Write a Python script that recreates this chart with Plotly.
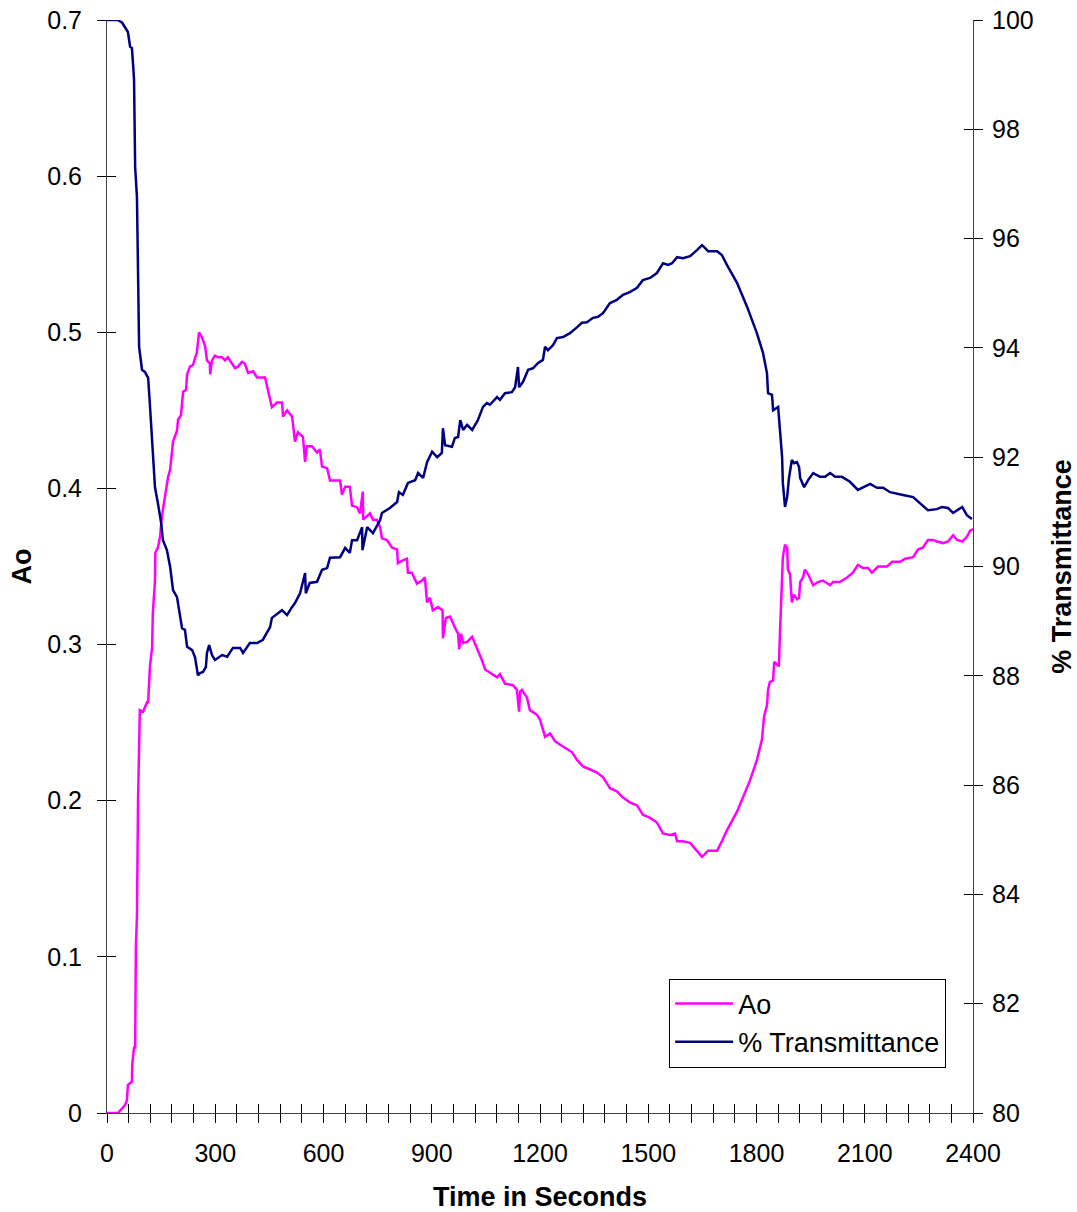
import plotly.graph_objects as go

# ---- Data ----
ao_time = [0, 30, 42, 50, 55, 58, 69, 70, 75, 78, 80, 83, 86, 89, 91, 100, 111, 114, 119, 125,
           127, 133, 134, 141, 147, 152, 161, 169, 175, 183, 194, 197, 205, 211, 219, 222, 230, 238, 249, 255,
           263, 272, 277, 285, 286, 291, 299, 308, 319, 327, 335, 346, 355, 363, 374, 382, 391, 405, 416, 424,
           438, 446, 457, 471, 485, 488, 499, 513, 521, 529, 543, 549, 554, 568, 582, 590, 596, 610, 618, 632,
           646, 651, 660, 673, 679, 693, 701, 709, 710, 729, 737, 748, 757, 762, 776, 790, 804, 806, 820, 831,
           834, 845, 859, 873, 881, 887, 895, 903, 917, 930, 931, 939, 951, 964, 973, 976, 981, 987, 1000, 1012,
           1025, 1039, 1048, 1061, 1081, 1089, 1103, 1125, 1136, 1142, 1145, 1150, 1164, 1172, 1192, 1200, 1214, 1228, 1242, 1255,
           1269, 1289, 1303, 1319, 1339, 1358, 1375, 1394, 1413, 1430, 1449, 1469, 1485, 1505, 1524, 1541, 1560, 1574, 1580, 1596,
           1616, 1635, 1649, 1666, 1691, 1704, 1718, 1746, 1763, 1782, 1801, 1815, 1821, 1829, 1832, 1837, 1846, 1849, 1857, 1862,
           1865, 1868, 1871, 1873, 1879, 1885, 1887, 1893, 1898, 1904, 1912, 1918, 1921, 1929, 1934, 1943, 1957, 1970, 1984, 2004,
           2012, 2031, 2051, 2067, 2081, 2095, 2109, 2120, 2137, 2162, 2176, 2198, 2212, 2234, 2248, 2261, 2275, 2289, 2300, 2317,
           2331, 2345, 2356, 2370, 2383, 2392, 2400]
ao_values = [0.000, 0.000, 0.003, 0.005, 0.008, 0.018, 0.020, 0.031, 0.042, 0.042, 0.106, 0.126, 0.200, 0.241, 0.258, 0.257, 0.263, 0.263, 0.286, 0.298,
             0.320, 0.341, 0.359, 0.362, 0.369, 0.382, 0.395, 0.407, 0.412, 0.430, 0.437, 0.444, 0.447, 0.462, 0.463, 0.473, 0.478, 0.479, 0.487, 0.500,
             0.497, 0.491, 0.482, 0.480, 0.473, 0.482, 0.485, 0.484, 0.484, 0.482, 0.484, 0.480, 0.477, 0.478, 0.481, 0.480, 0.474, 0.475, 0.471, 0.471,
             0.471, 0.463, 0.452, 0.455, 0.455, 0.446, 0.450, 0.446, 0.430, 0.436, 0.433, 0.417, 0.427, 0.427, 0.423, 0.425, 0.414, 0.413, 0.405, 0.405,
             0.405, 0.396, 0.401, 0.401, 0.389, 0.388, 0.384, 0.398, 0.380, 0.384, 0.380, 0.380, 0.375, 0.368, 0.367, 0.362, 0.361, 0.352, 0.354, 0.355,
             0.346, 0.346, 0.339, 0.341, 0.343, 0.327, 0.330, 0.322, 0.324, 0.322, 0.304, 0.317, 0.318, 0.311, 0.307, 0.297, 0.307, 0.301, 0.302, 0.305,
             0.298, 0.290, 0.284, 0.282, 0.279, 0.281, 0.275, 0.274, 0.271, 0.257, 0.270, 0.271, 0.266, 0.258, 0.255, 0.252, 0.241, 0.243, 0.238, 0.236,
             0.234, 0.231, 0.226, 0.222, 0.220, 0.218, 0.215, 0.208, 0.206, 0.202, 0.199, 0.197, 0.191, 0.189, 0.186, 0.179, 0.178, 0.179, 0.174, 0.174,
             0.173, 0.168, 0.164, 0.168, 0.168, 0.174, 0.181, 0.193, 0.202, 0.213, 0.226, 0.239, 0.254, 0.261, 0.271, 0.276, 0.277, 0.289, 0.287, 0.286,
             0.307, 0.322, 0.339, 0.356, 0.364, 0.362, 0.348, 0.345, 0.327, 0.332, 0.329, 0.330, 0.340, 0.343, 0.348, 0.345, 0.338, 0.340, 0.341, 0.338,
             0.340, 0.340, 0.343, 0.346, 0.351, 0.349, 0.349, 0.346, 0.350, 0.350, 0.353, 0.353, 0.355, 0.356, 0.361, 0.362, 0.367, 0.367, 0.366, 0.365,
             0.366, 0.370, 0.367, 0.366, 0.369, 0.373, 0.374]

tr_time = [0, 30, 42, 58, 64, 69, 72, 75, 78, 83, 89, 97, 105, 114, 119, 127, 133, 141, 150, 155,
           166, 175, 183, 194, 200, 208, 216, 222, 236, 244, 252, 258, 266, 274, 277, 283, 291, 299, 319, 333,
           349, 369, 377, 396, 416, 432, 452, 457, 485, 499, 513, 521, 535, 549, 551, 562, 582, 596, 610, 618,
           646, 660, 673, 679, 693, 707, 708, 721, 737, 757, 762, 784, 804, 809, 820, 834, 854, 862, 876, 887,
           901, 915, 928, 931, 937, 956, 964, 973, 979, 987, 998, 1012, 1028, 1042, 1053, 1061, 1081, 1089, 1103, 1122,
           1131, 1139, 1142, 1153, 1167, 1181, 1194, 1208, 1214, 1222, 1236, 1247, 1264, 1283, 1303, 1316, 1330, 1347, 1361, 1375,
           1394, 1413, 1430, 1449, 1469, 1485, 1505, 1524, 1541, 1555, 1566, 1580, 1596, 1616, 1635, 1649, 1657, 1666, 1691, 1704,
           1718, 1746, 1774, 1801, 1818, 1829, 1832, 1843, 1846, 1860, 1865, 1871, 1873, 1879, 1885, 1890, 1898, 1904, 1912, 1918,
           1921, 1932, 1943, 1957, 1976, 1990, 2004, 2018, 2037, 2059, 2081, 2095, 2115, 2134, 2151, 2170, 2189, 2206, 2234, 2253,
           2275, 2300, 2314, 2331, 2345, 2370, 2383, 2397]
tr_values = [100.00, 100.00, 99.95, 99.78, 99.51, 99.49, 99.21, 98.90, 97.31, 96.76, 94.02, 93.60, 93.56, 93.45, 92.95, 92.13, 91.45, 91.16, 90.80, 90.48,
             90.30, 89.99, 89.57, 89.44, 89.20, 88.87, 88.84, 88.53, 88.47, 88.34, 88.01, 88.05, 88.07, 88.16, 88.42, 88.56, 88.38, 88.29, 88.38, 88.35,
             88.51, 88.51, 88.42, 88.60, 88.60, 88.66, 88.89, 89.06, 89.20, 89.11, 89.26, 89.33, 89.51, 89.88, 89.51, 89.70, 89.72, 89.94, 89.97, 90.16,
             90.17, 90.34, 90.25, 90.48, 90.48, 90.72, 90.30, 90.72, 90.61, 90.85, 90.98, 91.07, 91.18, 91.36, 91.31, 91.53, 91.58, 91.71, 91.62, 91.91,
             92.10, 92.00, 92.08, 92.53, 92.22, 92.19, 92.35, 92.37, 92.68, 92.50, 92.59, 92.50, 92.68, 92.92, 92.99, 92.96, 93.10, 93.05, 93.17, 93.19,
             93.28, 93.65, 93.28, 93.38, 93.60, 93.63, 93.72, 93.78, 94.02, 93.96, 94.05, 94.18, 94.20, 94.27, 94.38, 94.46, 94.47, 94.55, 94.57, 94.64,
             94.82, 94.88, 94.97, 95.02, 95.10, 95.24, 95.28, 95.37, 95.55, 95.52, 95.55, 95.66, 95.64, 95.68, 95.79, 95.88, 95.83, 95.77, 95.77, 95.70,
             95.52, 95.19, 94.75, 94.27, 93.91, 93.54, 93.17, 93.14, 92.86, 92.92, 92.50, 92.00, 91.53, 91.09, 91.27, 91.62, 91.95, 91.89, 91.91, 91.82,
             91.62, 91.45, 91.58, 91.71, 91.64, 91.64, 91.71, 91.64, 91.64, 91.55, 91.40, 91.45, 91.51, 91.44, 91.44, 91.36, 91.34, 91.31, 91.27, 91.16,
             91.03, 91.05, 91.09, 91.07, 90.98, 91.09, 90.94, 90.87]

x_range = [0, 2400]
ao_range = [0, 0.7]
tr_range = [80, 100]

FONT = "Liberation Sans, Arial, sans-serif"
AXIS_COLOR = "#404040"
TICK_SIZE = 25
TITLE_SIZE = 27

fig = go.Figure()
fig.add_trace(go.Scatter(x=ao_time, y=ao_values, name="Ao", mode="lines",
                         line=dict(color="#FF00FF", width=2.5), legendgroup="a"))
fig.add_trace(go.Scatter(x=tr_time, y=tr_values, name="% Transmittance", mode="lines",
                         line=dict(color="#000080", width=2.5), yaxis="y2", legendgroup="b"))
# empty traces carrying the inner-tick overlay axes
fig.add_trace(go.Scatter(x=[], y=[], xaxis="x3", yaxis="y", showlegend=False, hoverinfo="skip"))
fig.add_trace(go.Scatter(x=[], y=[], xaxis="x", yaxis="y3", showlegend=False, hoverinfo="skip"))
fig.add_trace(go.Scatter(x=[], y=[], xaxis="x", yaxis="y4", showlegend=False, hoverinfo="skip"))

TL = 9
fig.update_layout(
    width=1077, height=1212,
    margin=dict(l=107, r=104, t=20, b=99, autoexpand=False),
    paper_bgcolor="white", plot_bgcolor="white",
    font=dict(family=FONT, size=TICK_SIZE, color="black"),
    showlegend=True,
    legend=dict(x=0.969, y=0.0416, xanchor="right", yanchor="bottom",
                bgcolor="white", bordercolor="black", borderwidth=1,
                font=dict(size=TITLE_SIZE), tracegroupgap=4, traceorder="normal",
                itemwidth=58),
    xaxis=dict(range=x_range, dtick=300, tick0=0, ticks="outside", ticklen=TL, tickcolor="black",
               minor=dict(dtick=60, tick0=0, ticks="outside", ticklen=TL, tickcolor="black"),
               showline=True, linecolor=AXIS_COLOR, linewidth=1, showgrid=False, zeroline=False,
               ticklabelstandoff=9, automargin=False,
               title=dict(text="<b>Time in Seconds</b>", standoff=21, font=dict(size=TITLE_SIZE))),
    xaxis3=dict(range=x_range, overlaying="x", anchor="y", side="bottom", dtick=60, tick0=0,
                ticks="inside", ticklen=TL, tickcolor="black", showticklabels=False,
                showline=False, showgrid=False, zeroline=False, automargin=False),
    yaxis=dict(range=ao_range, dtick=0.1, tick0=0, ticks="outside", ticklen=TL, tickcolor="black",
               showline=True, linecolor=AXIS_COLOR, linewidth=1, showgrid=False, zeroline=False,
               ticklabelstandoff=10, automargin=False,
               title=dict(text="<b>Ao</b>", standoff=7, font=dict(size=TITLE_SIZE))),
    yaxis3=dict(range=ao_range, overlaying="y", anchor="x", side="left", dtick=0.1, tick0=0,
                ticks="inside", ticklen=TL, tickcolor="black", showticklabels=False,
                showline=False, showgrid=False, zeroline=False, automargin=False),
    yaxis2=dict(range=tr_range, overlaying="y", anchor="x", side="right", dtick=2, tick0=80,
                ticks="outside", ticklen=TL, tickcolor="black",
                showline=True, linecolor=AXIS_COLOR, linewidth=1, showgrid=False, zeroline=False,
                ticklabelstandoff=4, automargin=False,
                title=dict(text="<b>% Transmittance</b>", standoff=27, font=dict(size=TITLE_SIZE))),
    yaxis4=dict(range=tr_range, overlaying="y", anchor="x", side="right", dtick=2, tick0=80,
                ticks="inside", ticklen=TL, tickcolor="black", showticklabels=False,
                showline=False, showgrid=False, zeroline=False, automargin=False),
)

fig.write_html("out.html", config={"displayModeBar": False})

# remove the browser's default body margin so the figure sits at the page origin
with open("out.html", "r", encoding="utf-8") as f:
    html = f.read()
html = html.replace("<body>", '<body style="margin:0;padding:0;overflow:hidden">', 1)
with open("out.html", "w", encoding="utf-8") as f:
    f.write(html)
